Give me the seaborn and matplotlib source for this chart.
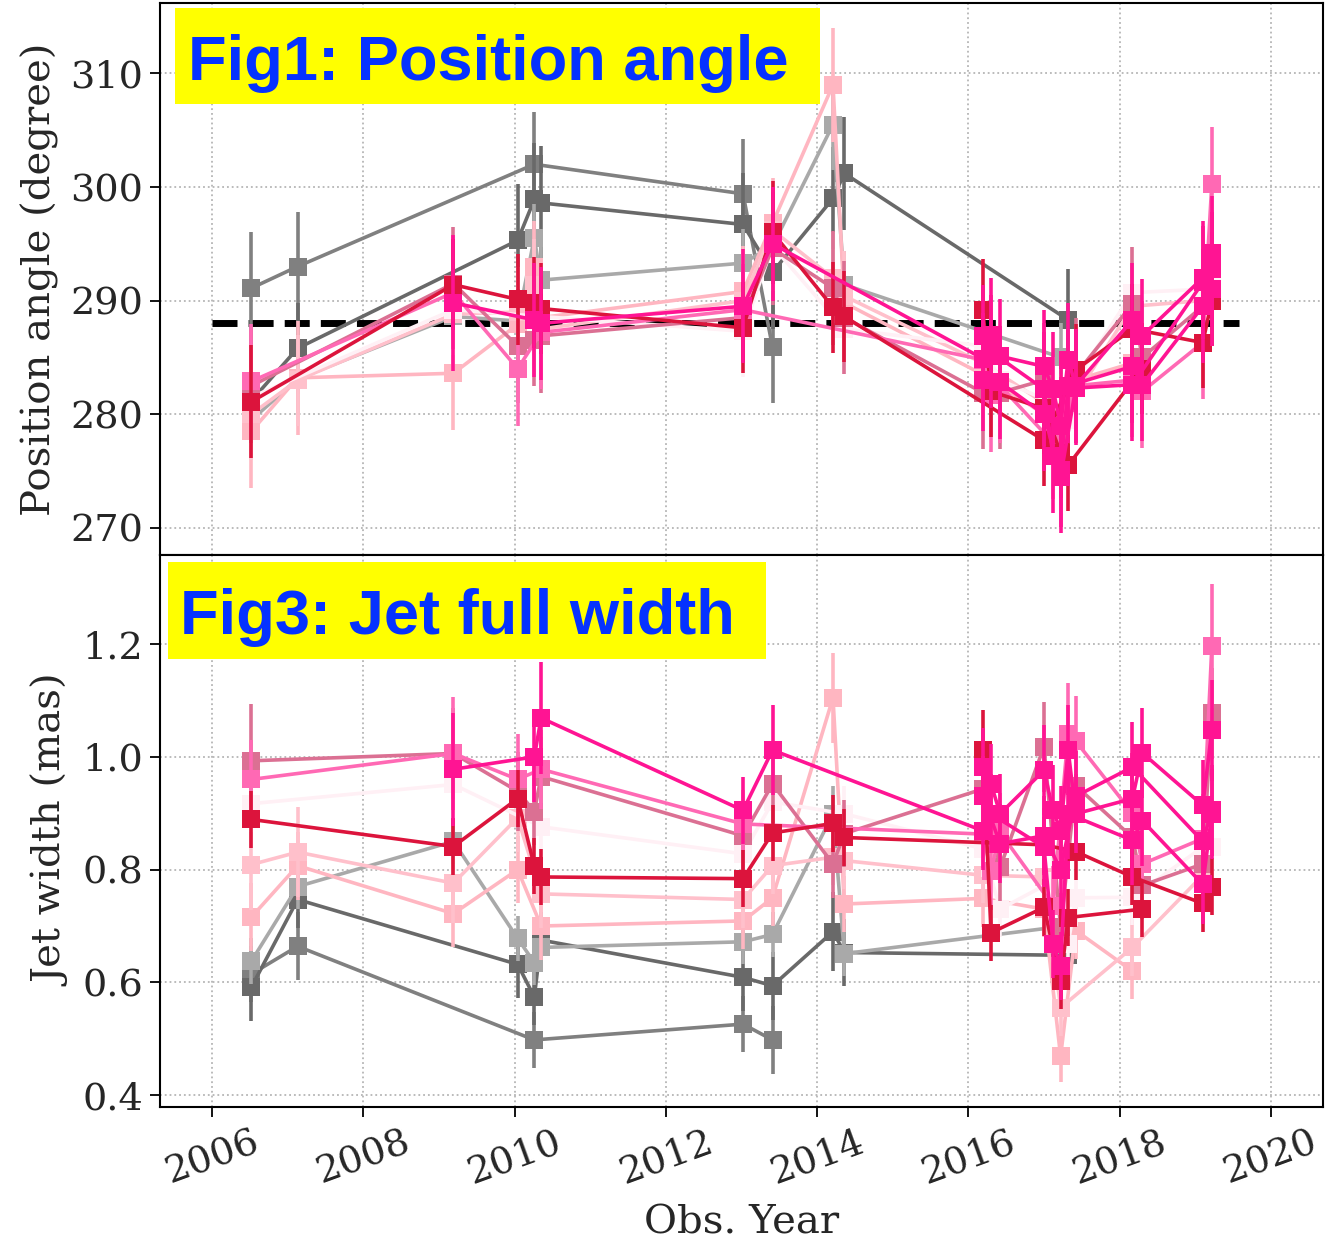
import numpy as np
import pandas as pd
import matplotlib
matplotlib.use("Agg")
import matplotlib.pyplot as plt
from matplotlib.patches import Rectangle
import seaborn as sns

n = np.nan

# Observing epochs (decimal year)
epochs = [2006.52, 2007.13, 2009.19, 2010.04, 2010.26, 2010.35, 2013.02, 2013.41,
          2014.21, 2014.36, 2016.19, 2016.30, 2016.42, 2017.00, 2017.12, 2017.22,
          2017.32, 2017.42, 2018.17, 2018.30, 2019.10, 2019.22]

# ---- position angle (deg) and jet full width (mas) per component ----
pa_grey = [291.1, 293.0, n, n, 302.0, n, 299.4, 285.9, n, n, n, n, n, n, n, n, n, n, n, n, n, n]
pa_grey_err = [4.9, 4.8, n, n, 4.6, n, 4.8, 4.9, n, n, n, n, n, n, n, n, n, n, n, n, n, n]
w_grey = [0.615, 0.664, n, n, 0.498, n, 0.526, 0.498, n, n, n, n, n, n, n, n, n, n, n, n, n, n]
w_grey_err = [0.05, 0.06, n, n, 0.05, n, 0.05, 0.06, n, n, n, n, n, n, n, n, n, n, n, n, n, n]

pa_dimgray = [281.2, 285.8, n, 295.3, 298.9, 298.6, 296.7, 292.5, 299.0, 301.2, n, n, n, n, n, n, 288.3, n, n, n, n, n]
pa_dimgray_err = [3.0, 4.0, n, 5.0, 5.0, 5.0, 4.5, 5.0, 4.5, 5.0, n, n, n, n, n, n, 4.5, n, n, n, n, n]
w_dimgray = [0.592, 0.747, n, 0.632, 0.574, 0.675, 0.609, 0.594, 0.690, 0.653, n, n, n, n, n, n, 0.648, n, n, n, n, n]
w_dimgray_err = [0.06, 0.05, n, 0.06, 0.05, 0.05, 0.06, 0.06, 0.07, 0.06, n, n, n, n, n, n, 0.04, n, n, n, n, n]

pa_darkgray = [279.5, 283.1, 288.6, 288.2, 295.5, 291.8, 293.3, 294.8, 305.5, 291.4, n, n, n, n, n, 285.0, n, n, n, n, n, n]
pa_darkgray_err = [3.0, 3.0, 3.0, 3.0, 3.0, 3.0, 3.0, 3.0, 4.0, 3.0, n, n, n, n, n, 3.0, n, n, n, n, n, n]
w_darkgray = [0.638, 0.770, 0.850, 0.678, 0.635, 0.662, 0.672, 0.685, 0.899, 0.651, n, n, n, n, n, 0.699, n, n, n, n, n, n]
w_darkgray_err = [0.04, 0.04, 0.04, 0.04, 0.04, 0.04, 0.04, 0.04, 0.05, 0.04, n, n, n, n, n, 0.04, n, n, n, n, n, n]

pa_lightpink = [278.5, 283.2, 283.6, 287.9, 293.0, 288.5, 290.8, 296.8, 309.0, 289.8, 283.5, n, n, 280.0, n, 276.0, n, 283.0, 284.5, n, n, n]
pa_lightpink_err = [5.0, 5.0, 5.0, 4.0, 4.0, 4.0, 4.0, 4.0, 5.0, 4.5, 4.0, n, n, 4.0, n, 4.0, n, 4.0, 4.0, n, n, n]
w_lightpink = [0.716, 0.807, 0.722, 0.800, n, 0.700, 0.709, 0.750, 1.105, 0.739, 0.749, n, n, 0.730, n, 0.469, n, 0.692, 0.620, n, n, n]
w_lightpink_err = [0.06, 0.06, 0.06, 0.06, n, 0.06, 0.05, 0.05, 0.08, 0.05, 0.05, n, n, 0.05, n, 0.045, n, 0.05, 0.05, n, n, n]

pa_pink = [280.0, 283.0, 288.8, 289.0, 291.4, 287.5, 290.0, 296.2, 292.0, 290.4, 284.5, n, n, 281.0, n, 279.5, n, n, 289.5, n, 290.0, n]
pa_pink_err = [4.0, 4.0, 4.0, 4.0, 4.0, 4.0, 4.0, 4.0, 4.0, 4.0, 4.0, n, n, 4.0, n, 4.0, n, n, 4.0, n, 4.0, n]
w_pink = [0.809, 0.831, 0.776, 0.892, n, 0.757, 0.747, 0.807, 0.822, 0.816, 0.790, n, n, 0.787, n, 0.555, n, n, 0.662, n, 0.790, n]
w_pink_err = [0.08, 0.08, 0.07, 0.06, n, 0.06, 0.05, 0.05, 0.05, 0.05, 0.05, n, n, 0.05, n, 0.05, n, n, 0.05, n, 0.05, n]

pa_lavenderblush = [281.5, n, 289.2, n, n, 288.6, 287.3, 294.8, n, 287.5, 286.0, n, 283.0, n, 281.0, n, 279.5, 283.0, 290.7, n, 291.0, 292.0]
pa_lavenderblush_err = [4.0, n, 4.0, n, n, 4.0, 4.0, 4.0, n, 4.0, 4.0, n, 4.0, n, 4.0, n, 4.0, 4.0, 4.0, n, 4.0, 4.0]
w_lavenderblush = [0.917, n, 0.951, n, n, 0.876, 0.828, 0.920, n, 0.899, 0.837, n, 0.730, n, 0.780, n, 0.668, 0.750, 0.751, n, 0.840, 0.840]
w_lavenderblush_err = [0.05, n, 0.05, n, n, 0.05, 0.05, 0.05, n, 0.05, 0.05, n, 0.05, n, 0.05, n, 0.05, 0.05, 0.05, n, 0.05, 0.05]

pa_palevioletred = [282.5, n, 291.5, 286.0, 286.5, 286.9, 288.5, 294.6, 291.1, 288.5, 281.9, n, 281.9, 283.0, n, 277.8, n, 283.5, 289.7, 285.0, 289.5, 293.0]
pa_palevioletred_err = [5.0, n, 5.0, 5.0, 4.0, 5.0, 4.0, 5.0, 5.0, 5.0, 5.0, n, 5.0, 5.0, n, 5.0, n, 5.0, 5.0, 5.0, 5.0, 5.0]
w_palevioletred = [0.993, n, 1.006, 0.939, 0.903, 0.965, 0.860, 0.952, 0.810, 0.864, 0.943, n, 0.804, 1.018, n, 0.698, n, 0.949, 0.857, 0.772, 0.810, 1.077]
w_palevioletred_err = [0.10, n, 0.08, 0.07, 0.06, 0.07, 0.06, 0.07, 0.06, 0.06, 0.07, n, 0.06, 0.08, n, 0.06, n, 0.07, 0.07, 0.06, 0.06, 0.08]

pa_hotpink = [282.9, n, 290.7, 284.0, n, 287.2, 289.2, n, n, n, 284.8, 281.7, 282.5, n, 277.5, n, 281.0, 282.5, 283.0, 282.0, 286.3, 300.3]
pa_hotpink_err = [5.0, n, 5.0, 5.0, n, 5.0, 4.0, n, n, n, 4.5, 5.0, 5.0, n, 5.0, n, 5.0, 5.0, 5.0, 5.0, 5.0, 5.0]
w_hotpink = [0.960, n, 1.006, 0.960, n, 0.978, 0.881, n, n, n, 0.863, 0.798, 0.866, n, 0.736, n, 1.041, 1.028, 0.900, 0.810, 0.855, 1.196]
w_hotpink_err = [0.07, n, 0.10, 0.08, n, 0.07, 0.06, n, n, n, 0.06, 0.07, 0.07, n, 0.07, n, 0.09, 0.08, 0.08, 0.07, 0.08, 0.11]

pa_crimson = [281.1, n, 291.4, 290.1, 289.8, 289.3, 287.6, 296.0, 289.4, 288.6, n, n, n, 277.7, n, n, n, 283.9, 287.5, n, 286.3, 290.0]
pa_crimson_err = [5.0, n, 4.0, 4.0, 4.0, 4.0, 4.0, 4.5, 4.0, 4.0, n, n, n, 4.0, n, n, n, 4.0, 4.0, n, 4.0, 4.0]
w_crimson = [0.889, n, 0.841, 0.926, 0.806, 0.787, 0.784, 0.865, 0.882, 0.857, n, n, n, 0.844, n, n, n, 0.832, 0.787, n, 0.740, 0.770]
w_crimson_err = [0.05, n, 0.05, 0.05, 0.05, 0.05, 0.05, 0.05, 0.05, 0.05, n, n, n, 0.05, n, n, n, 0.05, 0.05, n, 0.05, 0.05]

pa_crimson_b = [n, n, n, n, n, n, n, n, n, n, 289.2, 282.0, n, 280.5, n, 276.6, 275.5, n, n, 284.0, n, n]
pa_crimson_b_err = [n, n, n, n, n, n, n, n, n, n, 4.5, 4.0, n, 4.0, n, 4.0, 4.0, n, n, 4.0, n, n]
w_crimson_b = [n, n, n, n, n, n, n, n, n, n, 1.013, 0.688, n, 0.733, n, 0.603, 0.715, n, n, 0.730, n, n]
w_crimson_b_err = [n, n, n, n, n, n, n, n, n, n, 0.07, 0.05, n, 0.05, n, 0.05, 0.05, n, n, 0.05, n, n]

pa_deeppink = [n, n, 289.8, n, 288.3, 288.0, 289.5, 295.0, n, n, 284.9, 287.0, 285.1, 284.2, 282.2, 279.0, 284.8, 282.5, 288.3, 286.9, 292.0, 294.2]
pa_deeppink_err = [n, n, 6.0, n, 5.0, 5.0, 5.0, 5.0, n, n, 4.0, 5.0, 5.0, 5.0, 5.0, 5.0, 5.0, 5.0, 5.0, 5.0, 5.0, 5.0]
w_deeppink = [n, n, 0.978, n, 1.000, 1.069, 0.905, 1.012, n, n, 0.869, 0.952, 0.899, 0.976, 0.905, 0.869, 1.012, 0.899, 0.926, 1.007, 0.914, 1.047]
w_deeppink_err = [n, n, 0.10, n, 0.08, 0.10, 0.06, 0.08, n, n, 0.07, 0.07, 0.07, 0.08, 0.08, 0.08, 0.08, 0.07, 0.08, 0.08, 0.08, 0.09]

pa_deeppink_b = [n, n, n, n, n, n, n, n, n, n, 286.9, 285.5, n, 282.2, 276.3, 275.1, 282.5, n, 284.2, 282.6, 289.5, 291.0]
pa_deeppink_b_err = [n, n, n, n, n, n, n, n, n, n, 4.5, 5.0, n, 5.0, 5.0, 5.0, 5.0, n, 5.0, 5.0, 5.0, 5.0]
w_deeppink_b = [n, n, n, n, n, n, n, n, n, n, 0.982, 0.899, n, 0.840, 0.668, 0.629, 0.899, n, 0.852, 0.887, 0.774, 0.899]
w_deeppink_b_err = [n, n, n, n, n, n, n, n, n, n, 0.07, 0.07, n, 0.07, 0.06, 0.06, 0.08, n, 0.08, 0.08, 0.07, 0.08]

pa_deeppink_c = [n, n, n, n, n, n, n, n, n, n, 283.0, n, 282.8, 280.0, n, 274.5, n, 282.3, 282.6, n, 291.6, 292.8]
pa_deeppink_c_err = [n, n, n, n, n, n, n, n, n, n, 4.5, n, 5.0, 5.0, n, 5.0, n, 5.0, 5.0, n, 5.0, 5.0]
w_deeppink_c = [n, n, n, n, n, n, n, n, n, n, 0.931, n, 0.846, 0.860, n, 0.800, n, 0.930, 0.982, n, 0.850, 0.905]
w_deeppink_c_err = [n, n, n, n, n, n, n, n, n, n, 0.07, n, 0.07, 0.07, n, 0.07, n, 0.08, 0.08, n, 0.07, 0.08]

# Mean position angle reference line
ref_pa = 288.0
ref_span = [2006.0, 2019.58]

components = [
    ("grey", pa_grey, pa_grey_err, w_grey, w_grey_err),
    ("dimgray", pa_dimgray, pa_dimgray_err, w_dimgray, w_dimgray_err),
    ("darkgray", pa_darkgray, pa_darkgray_err, w_darkgray, w_darkgray_err),
    ("lightpink", pa_lightpink, pa_lightpink_err, w_lightpink, w_lightpink_err),
    ("pink", pa_pink, pa_pink_err, w_pink, w_pink_err),
    ("lavenderblush", pa_lavenderblush, pa_lavenderblush_err, w_lavenderblush, w_lavenderblush_err),
    ("palevioletred", pa_palevioletred, pa_palevioletred_err, w_palevioletred, w_palevioletred_err),
    ("hotpink", pa_hotpink, pa_hotpink_err, w_hotpink, w_hotpink_err),
    ("crimson", pa_crimson, pa_crimson_err, w_crimson, w_crimson_err),
    ("crimson", pa_crimson_b, pa_crimson_b_err, w_crimson_b, w_crimson_b_err),
    ("deeppink", pa_deeppink, pa_deeppink_err, w_deeppink, w_deeppink_err),
    ("deeppink", pa_deeppink_b, pa_deeppink_b_err, w_deeppink_b, w_deeppink_b_err),
    ("deeppink", pa_deeppink_c, pa_deeppink_c_err, w_deeppink_c, w_deeppink_c_err),
]

rows = []
for cid, (color, pa, pae, w, we) in enumerate(components):
    for t, a, ae, b, be in zip(epochs, pa, pae, w, we):
        if not np.isnan(a):
            rows.append(dict(comp=cid, color=color, year=t, pa=a, pa_err=ae, width=b, width_err=be))
df = pd.DataFrame(rows)

sns.set_style("ticks", {"axes.grid": True, "grid.linestyle": ":", "grid.color": "#b5b5b5",
                        "axes.edgecolor": "black", "xtick.direction": "out", "ytick.direction": "out"})
plt.rcParams["font.family"] = ["DejaVu Serif"]
plt.rcParams["axes.linewidth"] = 1.5
plt.rcParams["grid.linewidth"] = 1.3

W, H = 1325, 1251
fig = plt.figure(figsize=(W / 100, H / 100), dpi=100)
left, right = 160 / W, 1323 / W
ax1 = fig.add_axes([left, 1 - 555 / H, right - left, 552 / H])
ax2 = fig.add_axes([left, 1 - 1107 / H, right - left, 552 / H], sharex=ax1)

lw = 2.6
ms = 13
for cid, (color, *_rest) in enumerate(components):
    sub = df[df["comp"] == cid]
    for ax, col in ((ax1, "pa"), (ax2, "width")):
        ax.errorbar(sub["year"], sub[col], yerr=sub[col + "_err"], fmt="none",
                    ecolor=color, elinewidth=lw, capsize=0)
        sns.lineplot(data=sub, x="year", y=col, color=color, marker="s", markersize=ms,
                     markeredgewidth=0, linewidth=lw, estimator=None, sort=False,
                     legend=False, ax=ax)

ax1.plot(ref_span, [ref_pa, ref_pa], color="black", lw=5, dashes=(3.6, 1.6), zorder=1.5)

ax1.set_xlim(2005.31, 2020.69)
ax1.set_ylim(267.6, 316.2)
ax2.set_ylim(0.379, 1.358)
ax1.set_xticks(np.arange(2006, 2021, 2))
ax1.set_yticks([270, 280, 290, 300, 310])
ax2.set_yticks([0.4, 0.6, 0.8, 1.0, 1.2])
ax2.set_yticklabels(["0.4", "0.6", "0.8", "1.0", "1.2"])

for ax in (ax1, ax2):
    ax.tick_params(axis="both", labelsize=27.5, length=7, width=1.3, pad=5, color="black")
    for s in ax.spines.values():
        s.set_color("black")
        s.set_linewidth(1.5)
ax1.tick_params(axis="x", bottom=False, labelbottom=False)
for lab in ax2.get_xticklabels():
    lab.set_rotation(20)

ax1.set_xlabel("")
ax1.set_ylabel("Position angle (degree)", fontsize=29, labelpad=8)
ax2.set_ylabel("Jet width (mas)", fontsize=29, labelpad=8)
ax2.set_xlabel("Obs. Year", fontsize=29, labelpad=10)

# Panel captions on yellow boxes
fig.add_artist(Rectangle((175 / W, 1 - 104 / H), 645 / W, 96 / H, transform=fig.transFigure,
                         facecolor="#ffff00", edgecolor="none", zorder=5))
fig.text(188 / W, 1 - 80 / H, "Fig1: Position angle", fontsize=45.5, fontweight="bold",
         family="Liberation Sans", color="#0532ff", ha="left", va="baseline", zorder=6)
fig.add_artist(Rectangle((168 / W, 1 - 659 / H), 598 / W, 97 / H, transform=fig.transFigure,
                         facecolor="#ffff00", edgecolor="none", zorder=5))
fig.text(180 / W, 1 - 634 / H, "Fig3: Jet full width", fontsize=45.5, fontweight="bold",
         family="Liberation Sans", color="#0532ff", ha="left", va="baseline", zorder=6)

fig.savefig("out.png", dpi=100)
